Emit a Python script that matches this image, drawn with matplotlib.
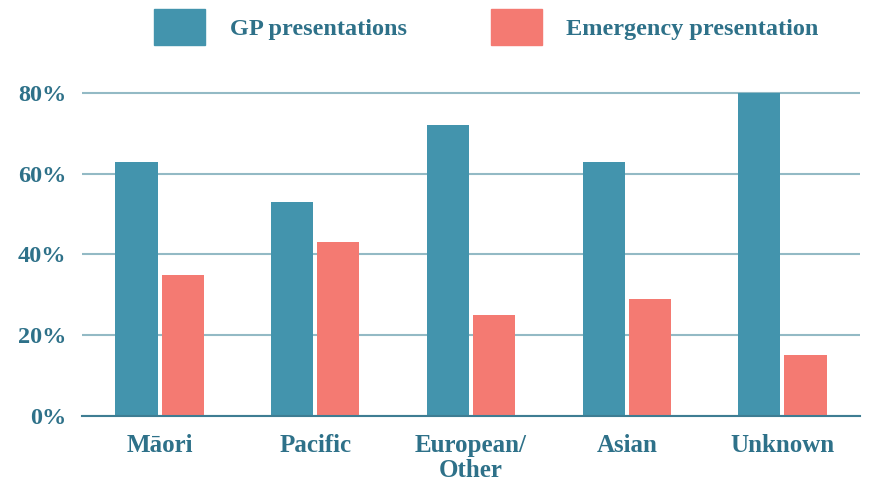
import numpy as np
import matplotlib.pyplot as plt
from matplotlib.patches import Patch

# --- data ---
groups = ["Māori", "Pacific", "European/\nOther", "Asian", "Unknown"]
gp = [63, 53, 72, 63, 80]
emergency = [35, 43, 25, 29, 15]
series_names = ["GP presentations", "Emergency presentation"]

teal = "#4394AD"
salmon = "#F47A72"
text_col = "#2E7189"
grid_col = "#93BAC5"

plt.rcParams['font.family'] = ['Liberation Serif', 'DejaVu Serif']

fig = plt.figure(figsize=(8.69, 4.84), dpi=100)
ymax = 81
ax = fig.add_axes([0.094, 0.1405, 0.896, 0.6675 * ymax / 80])

x = np.arange(len(groups))
w = 0.27
off = 0.148
ax.bar(x - off, gp, width=w, color=teal, zorder=3)
ax.bar(x + off, emergency, width=w, color=salmon, zorder=3)

ax.set_xlim(-0.5, 4.5)
ax.set_ylim(0, ymax)
ax.set_yticks([0, 20, 40, 60, 80])
ax.set_yticklabels([f"{v}%" for v in [0, 20, 40, 60, 80]])
ax.set_xticks(x)
ax.set_xticklabels(groups, linespacing=1.1)

ax.yaxis.grid(True, color=grid_col, linewidth=1.5, zorder=0)
ax.set_axisbelow(True)
for s in ["top", "right", "left"]:
    ax.spines[s].set_visible(False)
ax.spines["bottom"].set_color("#3E7D93")
ax.spines["bottom"].set_linewidth(1.5)
ax.spines["bottom"].set_zorder(4)
ax.tick_params(axis="both", length=0, labelcolor=text_col)
ax.tick_params(axis="y", pad=11, labelsize=17.5)
ax.tick_params(axis="x", pad=13, labelsize=18)
for lab in ax.get_xticklabels() + ax.get_yticklabels():
    lab.set_fontweight("bold")

handles = [Patch(color=teal), Patch(color=salmon)]
leg = fig.legend(handles, series_names, loc="center", bbox_to_anchor=(0.56, 0.944),
                 ncol=2, frameon=False, fontsize=17.5, handlelength=2.1,
                 handleheight=1.92, handletextpad=1.0, columnspacing=3.47)
for t in leg.get_texts():
    t.set_color(text_col)
    t.set_fontweight("bold")

fig.savefig("out.png", dpi=100)
